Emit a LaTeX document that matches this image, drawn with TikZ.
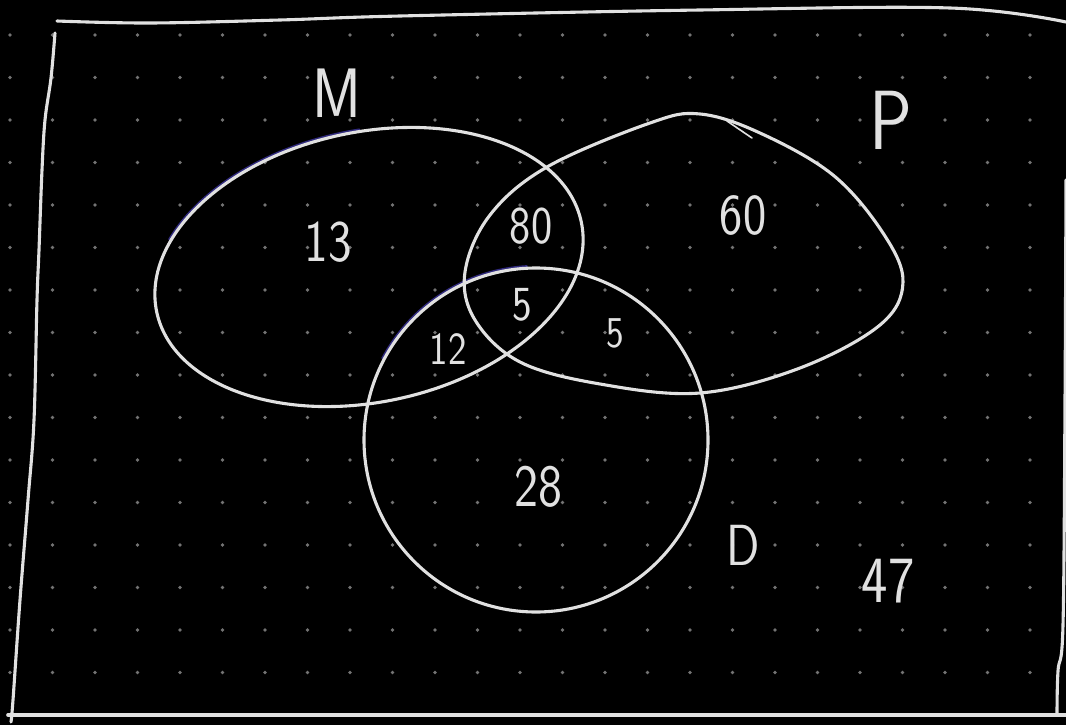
\documentclass[tikz,border=0pt]{standalone}
\usepackage{fontspec}
\usepackage{graphicx}
\definecolor{chalk}{RGB}{225,225,225}
\definecolor{dotgray}{RGB}{115,115,115}
\definecolor{inkblue}{RGB}{48,42,125}
\newcommand{\hw}[2]{{\fontsize{#1}{#1}\selectfont\sffamily\scalebox{0.85}[1]{#2}}}
\begin{document}
\begin{tikzpicture}[x=1pt,y=-1pt,
  chalkline/.style={draw=chalk, line width=3.1pt, line cap=round, line join=round},
  blueline/.style={draw=inkblue, line width=2.2pt, line cap=round},
  lbl/.style={text=chalk, inner sep=0pt}]
\fill[black] (0,0) rectangle (1066,725);
\useasboundingbox (0,0) rectangle (1066,725);
% dot grid
\foreach \gx in {10,52.5,...,1031} \foreach \gy in {35,77.5,...,701}
  \fill[dotgray] (\gx,\gy) circle[radius=1.9pt];
% frame
\draw[chalkline] plot[smooth, tension=0.6] coordinates {(57,21) (150,23) (280,20) (400,16) (700,10) (950,8) (1066,22)};
\draw[chalkline] plot[smooth, tension=0.6] coordinates {(55,33) (51,78) (45,120) (42,170) (39,250) (37,300) (34,420) (28,500) (20,600) (13,700) (11,722)};
\draw[chalkline] plot[smooth, tension=0.6] coordinates {(1066,180) (1065,400) (1063,625) (1058,671) (1057,715)};
\draw[chalkline, line width=3.6pt] (8,715) -- (1066,715);
% M ellipse
\begin{scope}[rotate around={12:(369,267)}]
  \draw[blueline] plot[domain=85:150, samples=40] ({369+219*cos(\x)}, {267-137*sin(\x)});
  \draw[chalkline] (369,267) ellipse [x radius=217pt, y radius=135pt];
\end{scope}
% D circle
\draw[blueline] plot[domain=93:152, samples=40] ({536+174*cos(\x)}, {440-174*sin(\x)});
\draw[chalkline] (536,440) circle[radius=172pt];
% P blob
\draw[chalkline] plot[smooth cycle, tension=0.6] coordinates {(465,272) (490,215) (547,167) (650,123) (700,114) (760,133) (833,175) (883,233) (903,282) (880,325) (800,368) (700,393) (600,384) (520,362) (475,320)};
\draw[chalk, line width=1.6pt, line cap=round] (727,121) -- (752,138);
% labels
\node[lbl] (labM) at (337,93) {\hw{70}{M}};
\node[lbl] (labP) at (891,120) {\hw{84}{P}};
\node[lbl] (labD) at (743,545) {\hw{58}{D}};
\node[lbl] (n47) at (888,581) {\hw{66}{47}};
\node[lbl] (n13) at (328,242) {\hw{59}{13}};
\node[lbl] (n80) at (531,226) {\hw{53}{80}};
\node[lbl] (n60) at (743,215) {\hw{58}{60}};
\node[lbl] (n5c) at (522,305) {\hw{49}{5}};
\node[lbl] (n12) at (448,349) {\hw{46}{12}};
\node[lbl] (n5r) at (615,333) {\hw{44}{5}};
\node[lbl] (n28) at (538,487) {\hw{60}{28}};
\end{tikzpicture}
\end{document}
